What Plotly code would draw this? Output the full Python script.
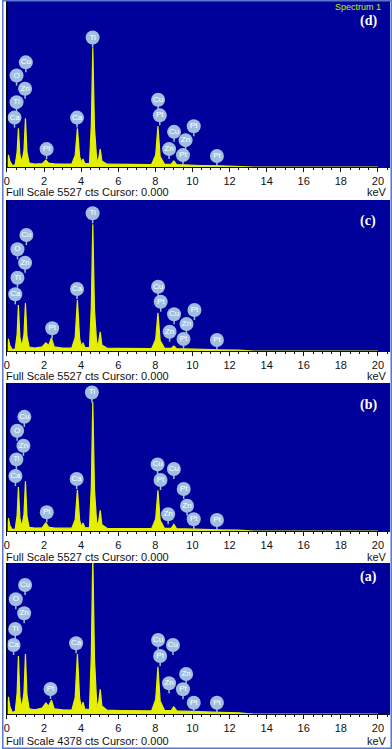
import plotly.graph_objects as go

# EDS spectra, keV vs counts
energy = [0.00, 0.08, 0.16, 0.30, 0.45, 0.55, 0.62, 0.70, 0.80, 0.92,
          1.00, 1.08, 1.20, 1.50, 1.90, 2.10, 2.25, 2.40, 2.55, 3.00,
          3.50, 3.68, 3.80, 3.92, 4.02, 4.10, 4.20, 4.45, 4.55, 4.63,
          4.72, 4.85, 4.95, 5.03, 5.12, 5.40, 6.00, 7.00, 7.80, 8.02,
          8.14, 8.26, 8.50, 8.85, 9.00, 9.15, 9.50, 10.50, 11.50, 12.50,
          13.00, 13.30, 20.00]

counts_d = [150, 400, 200, 40, 80, 500, 1290, 400, 150, 550,
            1620, 500, 130, 100, 110, 230, 130, 110, 105, 100,
            100, 380, 1290, 350, 150, 265, 120, 110, 1400, 3970,
            1300, 150, 300, 600, 200, 95, 90, 85, 80, 400,
            1360, 350, 90, 90, 200, 80, 70, 50, 40, 30,
            20, 0, 0]

counts_c = [150, 440, 200, 40, 80, 600, 1680, 500, 150, 600,
            1760, 550, 140, 110, 150, 300, 200, 480, 150, 110,
            110, 500, 1870, 450, 150, 300, 130, 120, 1600, 4640,
            1500, 160, 350, 700, 220, 100, 95, 90, 85, 420,
            1400, 380, 95, 95, 180, 85, 75, 55, 40, 30,
            20, 0, 0]

counts_b = [160, 485, 200, 40, 80, 580, 1640, 480, 150, 620,
            1855, 560, 140, 110, 120, 310, 150, 120, 110, 105,
            105, 420, 1540, 400, 150, 300, 130, 120, 1650, 4820,
            1550, 160, 380, 770, 230, 100, 95, 90, 85, 450,
            1520, 400, 95, 95, 250, 85, 75, 55, 40, 30,
            20, 0, 0]

counts_a = [200, 500, 220, 40, 80, 600, 1680, 500, 160, 620,
            1740, 560, 150, 120, 170, 320, 230, 400, 150, 120,
            115, 480, 1740, 450, 170, 340, 140, 130, 1700, 4600,
            1600, 180, 360, 715, 230, 110, 100, 95, 90, 420,
            1370, 380, 100, 100, 210, 90, 80, 60, 45, 35,
            25, 0, 0]

# element tags (name, keV, cts)
el_d = ['Ti', 'Cu', 'O', 'Zn', 'Ti', 'Ca', 'Pt', 'Ca', 'Cu', 'Pt', 'Cu', 'Zn', 'Zn', 'Pt', 'Pt', 'Pt']
kev_d = [4.62, 1.02, 0.52, 0.98, 0.52, 0.41, 2.14, 3.78, 8.15, 8.24, 9.01, 8.74, 9.63, 10.07, 9.49, 11.32]
cts_d = [4310, 3485, 3045, 2605, 2160, 1645, 596, 1645, 2240, 1720, 1170, 596, 894, 1357, 397, 364]

el_c = ['Ti', 'Cu', 'O', 'Zn', 'Ti', 'Ca', 'Pt', 'Ca', 'Cu', 'Pt', 'Cu', 'Zn', 'Zn', 'Pt', 'Pt', 'Pt']
kev_c = [4.62, 1.05, 0.57, 0.98, 0.57, 0.45, 2.44, 3.78, 8.15, 8.29, 9.01, 8.77, 9.68, 10.11, 9.52, 11.32]
cts_c = [5040, 4246, 3722, 3232, 2683, 2075, 831, 2269, 2353, 1804, 1343, 706, 988, 1500, 439, 403]

el_b = ['Ti', 'Cu', 'O', 'Zn', 'Ti', 'Ca', 'Pt', 'Ca', 'Cu', 'Cu', 'Pt', 'Pt', 'Zn', 'Zn', 'Pt', 'Pt']
kev_b = [4.58, 0.94, 0.55, 0.89, 0.51, 0.46, 2.15, 3.76, 8.12, 9.00, 8.28, 9.53, 8.69, 9.71, 10.07, 11.32]
cts_b = [5173, 4263, 3741, 3182, 2674, 2052, 698, 1940, 2488, 2313, 1902, 1567, 623, 944, 436, 410]

el_a = ['Cu', 'O', 'Zn', 'Ti', 'Ca', 'Pt', 'Ca', 'Cu', 'Cu', 'Pt', 'Zn', 'Zn', 'Pt', 'Pt', 'Pt']
kev_a = [0.98, 0.48, 0.93, 0.45, 0.36, 2.35, 3.73, 8.15, 8.95, 8.26, 9.66, 8.74, 9.49, 10.07, 11.32]
cts_a = [3741, 3326, 2920, 2465, 2001, 725, 2050, 2146, 2001, 1682, 1160, 890, 716, 328, 328]

full_scale = {'d': 5527, 'c': 5527, 'b': 5527, 'a': 4378}

W, H = 392, 749
BLUE = '#00009a'
YELLOW = '#e4f000'
TAG = 'rgb(160,190,226)'
FONT = 'Liberation Sans, Arial'

# panel: letter, spectrum, tags, top px, bottom px, footer px, letter px
panels = [
    ('d', counts_d, (el_d, kev_d, cts_d), 1, 167, 192, 21),
    ('c', counts_c, (el_c, kev_c, cts_c), 200, 351, 376, 221),
    ('b', counts_b, (el_b, kev_b, cts_b), 383, 531, 557, 405),
    ('a', counts_a, (el_a, kev_a, cts_a), 563, 714, 741, 577),
]

fig = go.Figure()
shapes = []
annotations = []

for i, (name, cts, tags, top, bot, foot, lab) in enumerate(panels):
    n = '' if i == 0 else str(i + 1)
    fs = full_scale[name]
    per_px = fs / (bot - top)

    fig.add_trace(go.Scatter(
        x=energy, y=cts, mode='lines', fill='tozeroy',
        line=dict(color=YELLOW, width=1.2), fillcolor=YELLOW,
        xaxis='x' + n, yaxis='y' + n, hoverinfo='skip'))

    els, kev, pos = tags
    fig.add_trace(go.Scatter(
        x=kev, y=pos, mode='markers+text', text=els,
        textposition='middle center',
        textfont=dict(color='white', size=8, family=FONT),
        marker=dict(size=14, color=TAG, line=dict(width=0)),
        error_y=dict(type='data', symmetric=False, array=[0] * len(kev),
                     arrayminus=[10 * per_px] * len(kev),
                     color=TAG, thickness=1.5, width=0),
        xaxis='x' + n, yaxis='y' + n, hoverinfo='skip'))

    fig.layout['xaxis' + n] = dict(
        domain=[4 / W, 390 / W], range=[-0.05, 20.65], anchor='y' + n,
        showline=True, linecolor='#111', linewidth=1,
        ticks='outside', ticklen=4, tickcolor='#111', tick0=0, dtick=2,
        minor=dict(dtick=0.5, ticks='outside', ticklen=2, tickcolor='#111'),
        tickfont=dict(size=11, color='#111', family=FONT),
        showgrid=False, zeroline=False, fixedrange=True)
    fig.layout['yaxis' + n] = dict(
        domain=[1 - bot / H, 1 - top / H], range=[0, fs], anchor='x' + n,
        visible=False, fixedrange=True)

    # cursor at 0.000
    shapes.append(dict(type='line', xref='x' + n, yref='y' + n + ' domain',
                       x0=0, x1=0, y0=0, y1=1, line=dict(color='black', width=1.5)))

    annotations.append(dict(text=f'Full Scale {fs} cts Cursor: 0.000',
                            xref='paper', yref='paper', x=2 / W, y=1 - foot / H,
                            xanchor='left', yanchor='middle', showarrow=False,
                            font=dict(size=11, color='#111', family=FONT)))
    annotations.append(dict(text='keV', xref='paper', yref='paper',
                            x=389 / W, y=1 - foot / H, xanchor='right', yanchor='middle',
                            showarrow=False, font=dict(size=11, color='#111', family=FONT)))
    annotations.append(dict(text=f'<b>({name})</b>', xref='paper', yref='paper',
                            x=368 / W, y=1 - lab / H, xanchor='center', yanchor='middle',
                            showarrow=False,
                            font=dict(size=14, color='white', family='Liberation Serif, Times New Roman')))

annotations.append(dict(text='Spectrum 1', xref='paper', yref='paper',
                        x=358 / W, y=1 - 7 / H, xanchor='center', yanchor='middle',
                        showarrow=False, font=dict(size=9, color='#c8f000', family=FONT)))

shapes.append(dict(type='rect', xref='paper', yref='paper', x0=0.002, x1=0.998,
                   y0=0.001, y1=0.999, line=dict(color='#5577cc', width=1.5)))

fig.update_layout(
    width=W, height=H, margin=dict(l=0, r=0, t=0, b=0),
    plot_bgcolor=BLUE, paper_bgcolor='white', showlegend=False,
    shapes=shapes, annotations=annotations)

# the page's default body margin would push the figure off the 392px window
fig.write_html("out.html", config={'displayModeBar': False},
               post_script="document.body.style.margin='0';document.body.style.overflow='hidden';")
